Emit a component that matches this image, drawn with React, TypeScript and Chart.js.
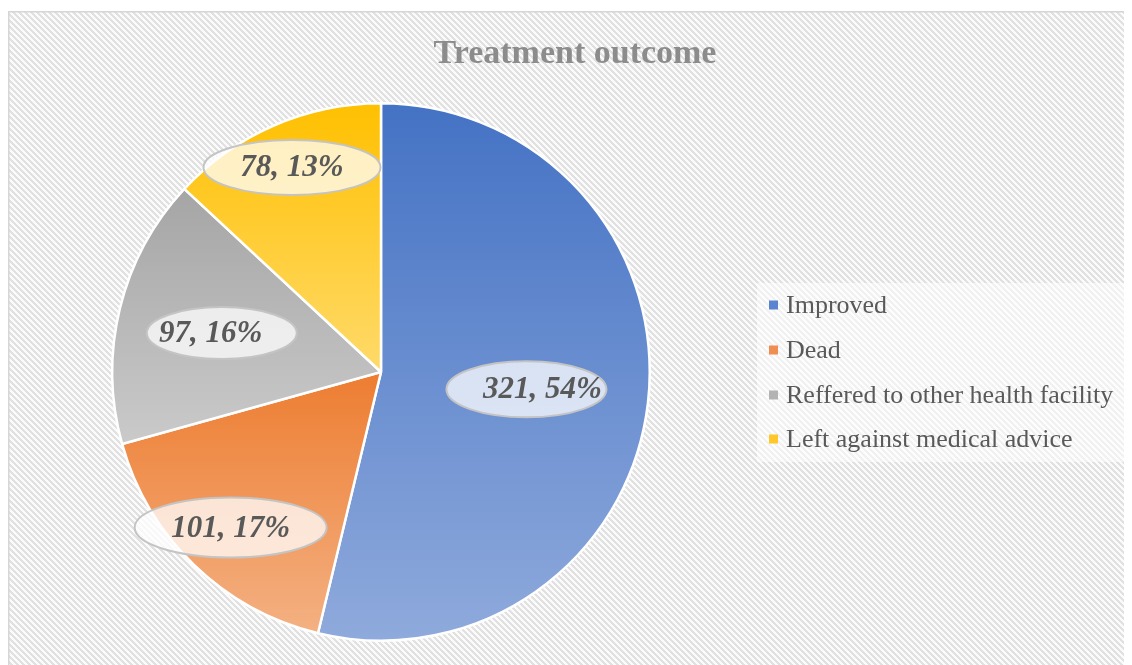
import React, { useEffect, useRef } from "react";
import { Chart, registerables } from "chart.js";

Chart.register(...registerables);

// ---- data ----
const titleText = "Treatment outcome";
const categories = [
  "Improved",
  "Dead",
  "Reffered to other health facility",
  "Left against medical advice",
];
const counts = [321, 101, 97, 78];

// ---- styles ----
const TOP_COLORS = ["#4472C4", "#ED7D31", "#A5A5A5", "#FFC000"];
const BOTTOM_COLORS = ["#8FAADC", "#F4B183", "#CACACA", "#FFDA6A"];
const LEGEND_COLORS = ["#5A84D0", "#EF8D52", "#B3B3B3", "#FFC72A"];
const LABEL_RADIUS = [0.545, 0.805, 0.61, 0.83];
const LABEL_BOX: [number, number][] = [
  [160, 56],
  [192, 60],
  [150, 52],
  [177, 55],
];
const LABEL_TEXT_DX = [16, 0, -11, 0];
const SERIF = '"Liberation Serif", "Times New Roman", serif';
const W = 1124;
const H = 657;

const total = counts.reduce((a, b) => a + b, 0);
const percentOf = (v: number) => Math.round((v / total) * 100);

function sliceGradient(ctx: any) {
  const chart = ctx.chart;
  const i = ctx.dataIndex ?? 0;
  const area = chart.chartArea;
  if (!area) return TOP_COLORS[i];
  const cx = (area.left + area.right) / 2;
  const cy = (area.top + area.bottom) / 2;
  const r = Math.min(area.right - area.left, area.bottom - area.top) / 2;
  let acc = 0;
  for (let j = 0; j < i; j++) acc += counts[j];
  const a0 = -Math.PI / 2 + (acc / total) * Math.PI * 2;
  const a1 = a0 + (counts[i] / total) * Math.PI * 2;
  const ys = [cy, cy + r * Math.sin(a0), cy + r * Math.sin(a1)];
  for (const k of [-Math.PI / 2, Math.PI / 2, (3 * Math.PI) / 2]) {
    if (k >= a0 && k <= a1) ys.push(cy + r * Math.sin(k));
  }
  const minY = Math.min(...ys);
  const maxY = Math.max(...ys);
  const g = chart.ctx.createLinearGradient(0, minY, 0, maxY);
  g.addColorStop(0, TOP_COLORS[i]);
  g.addColorStop(1, BOTTOM_COLORS[i]);
  return g;
}

function makePattern(ctx: CanvasRenderingContext2D) {
  const p = 6;
  const c = document.createElement("canvas");
  c.width = p;
  c.height = p;
  const pc = c.getContext("2d")!;
  pc.fillStyle = "#FBFBFB";
  pc.fillRect(0, 0, p, p);
  pc.fillStyle = "#E1E1E1";
  for (let y = 0; y < p; y++) {
    for (let x = 0; x < p; x++) {
      if ((((x - y) % p) + p) % p < 3) pc.fillRect(x, y, 1, 1);
    }
  }
  return ctx.createPattern(c, "repeat")!;
}

const backgroundPlugin = {
  id: "bgPattern",
  beforeDraw(chart: any) {
    const ctx = chart.ctx as CanvasRenderingContext2D;
    ctx.save();
    ctx.fillStyle = "#FFFFFF";
    ctx.fillRect(0, 0, chart.width, chart.height);
    ctx.fillStyle = makePattern(ctx);
    ctx.fillRect(1, 4, chart.width + 10, chart.height + 10);
    ctx.strokeStyle = "#D6D6D6";
    ctx.lineWidth = 1.5;
    ctx.strokeRect(0.75, 3.75, chart.width + 10, chart.height + 10);
    // title
    ctx.fillStyle = "#8C8C8C";
    ctx.font = `bold 34px ${SERIF}`;
    ctx.textAlign = "center";
    ctx.textBaseline = "middle";
    ctx.fillText(titleText, 567, 46);
    // legend
    ctx.fillStyle = "rgba(255,255,255,0.55)";
    ctx.fillRect(749, 275, 368, 179);
    ctx.font = `26px ${SERIF}`;
    ctx.textAlign = "left";
    const rows = [297, 342, 387, 431];
    categories.forEach((name, i) => {
      ctx.fillStyle = LEGEND_COLORS[i];
      ctx.fillRect(761, rows[i] - 4.5, 9, 9);
      ctx.fillStyle = "#595959";
      ctx.fillText(name, 778, rows[i] + 1);
    });
    ctx.restore();
  },
};

const labelPlugin = {
  id: "ellipseLabels",
  afterDatasetsDraw(chart: any) {
    const ctx = chart.ctx as CanvasRenderingContext2D;
    const meta = chart.getDatasetMeta(0);
    ctx.save();
    meta.data.forEach((arc: any, i: number) => {
      const { x, y, startAngle, endAngle, outerRadius } = arc.getProps(
        ["x", "y", "startAngle", "endAngle", "outerRadius"],
        true
      );
      const mid = (startAngle + endAngle) / 2;
      const d = outerRadius * LABEL_RADIUS[i];
      const lx = x + Math.cos(mid) * d;
      const ly = y + Math.sin(mid) * d;
      const [bw, bh] = LABEL_BOX[i];
      ctx.beginPath();
      ctx.ellipse(lx, ly, bw / 2, bh / 2, 0, 0, Math.PI * 2);
      ctx.fillStyle = "rgba(255,255,255,0.75)";
      ctx.fill();
      ctx.strokeStyle = "#C4C4C4";
      ctx.lineWidth = 2;
      ctx.stroke();
      ctx.fillStyle = "#595959";
      ctx.font = `italic bold 31px ${SERIF}`;
      ctx.textAlign = "center";
      ctx.textBaseline = "middle";
      ctx.fillText(
        `${counts[i]}, ${percentOf(counts[i])}%`,
        lx + LABEL_TEXT_DX[i],
        ly + 1
      );
    });
    ctx.restore();
  },
};

export default function App() {
  const ref = useRef<HTMLCanvasElement | null>(null);
  useEffect(() => {
    if (!ref.current) return;
    const chart = new Chart(ref.current, {
      type: "pie",
      data: {
        labels: categories,
        datasets: [
          {
            data: counts,
            backgroundColor: sliceGradient as any,
            borderColor: "#FFFFFF",
            borderWidth: 2.5,
          },
        ],
      },
      options: {
        responsive: false,
        animation: false,
        events: [],
        layout: { padding: { left: 103, top: 94, right: 481, bottom: 23 } },
        plugins: {
          legend: { display: false },
          title: { display: false },
          tooltip: { enabled: false },
        },
      },
      plugins: [backgroundPlugin, labelPlugin],
    });
    return () => chart.destroy();
  }, []);
  return (
    <div style={{ width: W, height: H }}>
      <canvas ref={ref} width={W} height={H} style={{ display: "block" }} />
    </div>
  );
}
